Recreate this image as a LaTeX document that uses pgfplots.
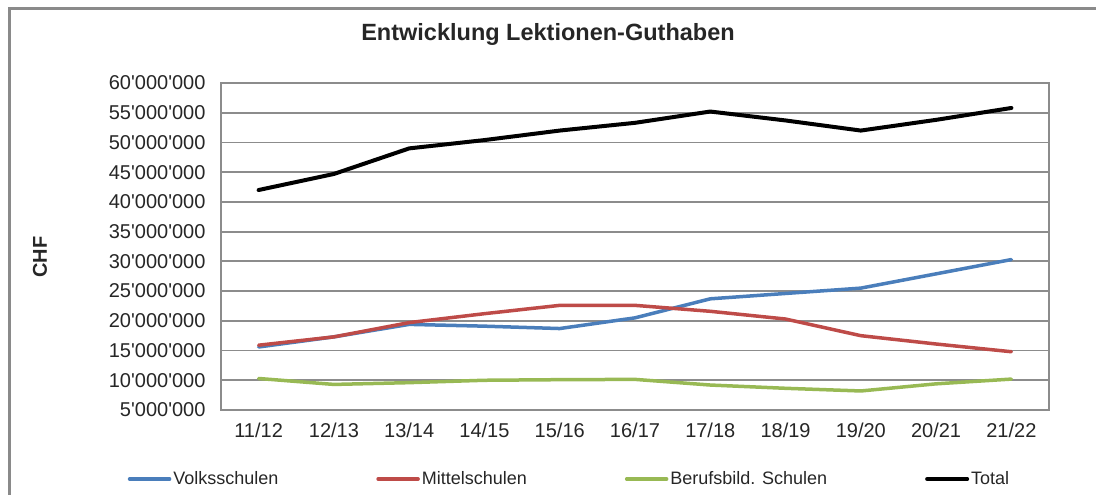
\documentclass[border=0pt]{standalone}
\usepackage{pgfplots}
\pgfplotsset{compat=1.18}
\usepackage{fontspec}
\setmainfont{Liberation Sans}

\definecolor{volks}{HTML}{4A7EBB}
\definecolor{mittel}{HTML}{BE4B48}
\definecolor{berufs}{HTML}{98B954}
\definecolor{gridgray}{HTML}{8C8C8C}
\definecolor{framegray}{HTML}{8A8A8A}
\definecolor{txt}{HTML}{262626}

\begin{document}
\begin{tikzpicture}
\useasboundingbox (0,0) rectangle (1096bp,495bp);
% outer chart frame (top and left edges)
\draw[framegray, line width=3bp] (9bp,0bp) -- (9bp,486bp) -- (1096bp,486bp);

\begin{axis}[
  at={(221bp,85bp)}, anchor=south west,
  scale only axis,
  width=828bp, height=327bp,
  xmin=-0.5, xmax=10.5,
  ymin=5000000, ymax=60000000,
  xtick={0,...,10},
  xticklabels={11/12,12/13,13/14,14/15,15/16,16/17,17/18,18/19,19/20,20/21,21/22},
  ytick={5000000,10000000,...,60000000},
  scaled y ticks=false,
  yticklabel style={/pgf/number format/fixed,
    /pgf/number format/precision=0,
    /pgf/number format/1000 sep={\textquotesingle},
    /pgf/number format/assume math mode=true,
    font=\fontsize{20bp}{22bp}\selectfont, text=txt, xshift=-12bp},
  xticklabel style={font=\fontsize{20bp}{22bp}\selectfont, text=txt, yshift=-9bp},
  major tick length=0pt,
  ymajorgrids,
  grid style={gridgray, line width=1.8bp},
  axis line style={gridgray, line width=1.8bp},
  title={Entwicklung Lektionen-Guthaben},
  title style={font=\fontsize{23.5bp}{28bp}\selectfont\bfseries, text=txt,
    at={(0.5,1)}, anchor=base, yshift=37bp, xshift=-87bp},
  ylabel={CHF},
  ylabel style={font=\fontsize{20bp}{22bp}\selectfont\bfseries, text=txt,
    at={(axis description cs:-0.2186,0.468)}, anchor=center},
  legend columns=4,
  legend style={at={(0.4209,-0.211)}, anchor=center, draw=none, fill=none,
    font=\fontsize{18bp}{20bp}\selectfont, text=txt,
    /tikz/every even column/.append style={column sep=96bp},
    nodes={inner xsep=2bp}},
  legend image code/.code={\draw[#1] (0bp,0bp) -- (40bp,0bp);},
  every axis plot/.append style={line join=round, line cap=round},
]
\addplot[volks, line width=3.5bp] coordinates {
  (0,15600000) (1,17300000) (2,19400000) (3,19100000) (4,18700000)
  (5,20500000) (6,23700000) (7,24600000) (8,25500000) (9,27900000) (10,30300000)};
\addlegendentry{Volksschulen}
\addplot[mittel, line width=3.5bp] coordinates {
  (0,15900000) (1,17300000) (2,19700000) (3,21200000) (4,22600000)
  (5,22600000) (6,21600000) (7,20300000) (8,17500000) (9,16100000) (10,14800000)};
\addlegendentry{Mittelschulen}
\addplot[berufs, line width=3.5bp] coordinates {
  (0,10300000) (1,9300000) (2,9600000) (3,10000000) (4,10100000)
  (5,10150000) (6,9200000) (7,8650000) (8,8200000) (9,9400000) (10,10200000)};
\addlegendentry{Berufsbild. Schulen}
\addplot[black, line width=4bp] coordinates {
  (0,42000000) (1,44700000) (2,49000000) (3,50400000) (4,52000000)
  (5,53300000) (6,55200000) (7,53700000) (8,52000000) (9,53800000) (10,55800000)};
\addlegendentry{Total}
\end{axis}
\end{tikzpicture}
\end{document}
